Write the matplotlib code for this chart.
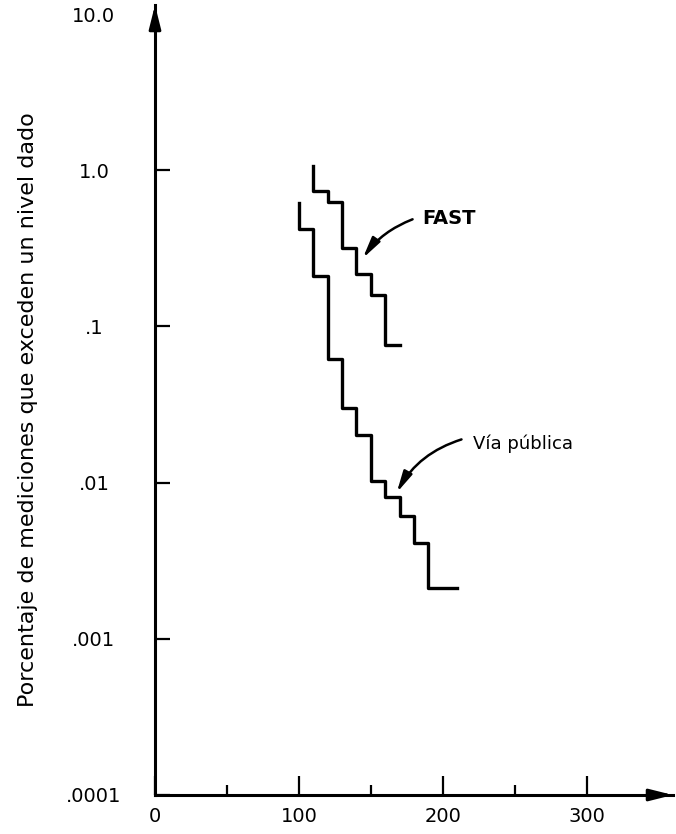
import matplotlib

matplotlib.use("Agg")
import matplotlib.pyplot as plt
from matplotlib.ticker import FixedLocator, NullLocator

# escalones (bordes en x, nivel en %): primer valor = arranque del trazo vertical
fast_x = [110, 120, 130, 140, 150, 160, 170]
fast_y = [1.06, 0.74, 0.63, 0.32, 0.215, 0.158, 0.0755]

via_x = [100, 110, 120, 130, 140, 150, 160, 170, 180, 190, 210]
via_y = [0.62, 0.42, 0.209, 0.062, 0.030, 0.0203, 0.0102, 0.0081, 0.0061, 0.0041, 0.0021]

y_ticks = [0.0001, 0.001, 0.01, 0.1, 1.0, 10.0]
y_tick_labels = [".0001", ".001", ".01", ".1", "1.0", "10.0"]
x_ticks = [0, 100, 200, 300]
x_minor_ticks = [50, 150, 250]

y_label = "Porcentaje de mediciones que exceden un nivel dado"

plt.rcParams["font.family"] = ["DejaVu Sans"]

fig = plt.figure(figsize=(6.76, 8.34), dpi=100)
ax = fig.add_axes([155 / 676, 39 / 834, 518 / 676, 790 / 834])

ax.step(fast_x, fast_y, where="pre", color="black", lw=2.4)
ax.step(via_x, via_y, where="pre", color="black", lw=2.4)

ax.set_yscale("log")
ax.set_xlim(0, 360)
ax.set_ylim(1e-4, 11.42)

ax.yaxis.set_major_locator(FixedLocator(y_ticks))
ax.yaxis.set_minor_locator(NullLocator())
ax.set_yticklabels(y_tick_labels, ha="center")
ax.xaxis.set_major_locator(FixedLocator(x_ticks))
ax.xaxis.set_minor_locator(FixedLocator(x_minor_ticks))

ax.tick_params(axis="y", which="major", direction="in", length=11, width=1.6,
               pad=44, labelsize=14)
ax.tick_params(axis="x", which="major", direction="in", length=14, width=1.6,
               pad=9, labelsize=14)
ax.tick_params(axis="x", which="minor", direction="in", length=7, width=1.6)
ax.yaxis.get_major_ticks()[-1].tick1line.set_visible(False)

for side in ("top", "right"):
    ax.spines[side].set_visible(False)
for side in ("left", "bottom"):
    ax.spines[side].set_linewidth(2.2)

# flechas de los ejes
head = "-|>,head_length=1.4,head_width=0.35"
ax.annotate("", xy=(0, 1), xytext=(0, 0.97), xycoords="axes fraction",
            arrowprops=dict(arrowstyle=head, color="black", lw=2.2,
                            mutation_scale=10, shrinkA=0, shrinkB=0))
ax.annotate("", xy=(1, 0), xytext=(0.96, 0), xycoords="axes fraction",
            arrowprops=dict(arrowstyle=head, color="black", lw=2.2,
                            mutation_scale=10, shrinkA=0, shrinkB=0))

# rotulos de las curvas
ax.text(186, 0.49, "FAST", fontsize=14, fontweight="bold", ha="left", va="center")
ax.annotate("", xy=(144.4, 0.273), xytext=(179, 0.485),
            arrowprops=dict(arrowstyle="-|>,head_length=0.9,head_width=0.2",
                            color="black", lw=1.8, mutation_scale=14,
                            connectionstyle="arc3,rad=0.15", shrinkA=0, shrinkB=0))

ax.text(221, 0.0178, "Vía pública", fontsize=13, ha="left", va="center")
ax.annotate("", xy=(168, 0.00863), xytext=(213, 0.0189),
            arrowprops=dict(arrowstyle="-|>,head_length=0.9,head_width=0.2",
                            color="black", lw=1.8, mutation_scale=14,
                            connectionstyle="arc3,rad=0.2", shrinkA=0, shrinkB=0))

fig.text(28 / 676, 1 - 410 / 834, y_label, rotation=90, fontsize=16,
         ha="center", va="center")

fig.savefig("out.png", dpi=100)
